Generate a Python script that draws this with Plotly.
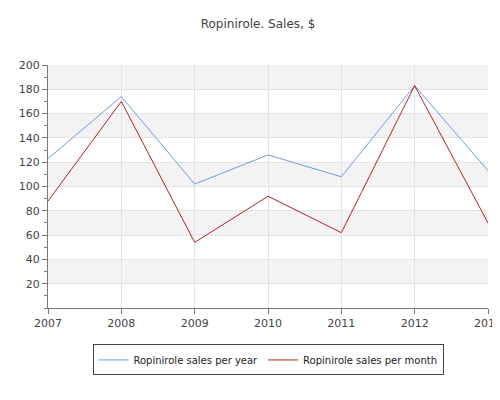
import plotly.graph_objects as go

years = [2007, 2008, 2009, 2010, 2011, 2012, 2013]
per_year = [123, 174, 102, 126, 108, 183, 113]
per_month = [88, 170, 54, 92, 62, 183, 70]
y_ticks = [20, 40, 60, 80, 100, 120, 140, 160, 180, 200]

fig = go.Figure()
fig.add_trace(go.Scatter(x=years, y=per_year, mode="lines", name="Ropinirole sales per year",
                         line=dict(color="#6f9be8", width=1)))
fig.add_trace(go.Scatter(x=years, y=per_month, mode="lines", name="Ropinirole sales per month",
                         line=dict(color="#b22222", width=1)))

shapes = []
for lo in [20, 60, 100, 140, 180]:
    shapes.append(dict(type="rect", xref="paper", yref="y", x0=0, x1=1, y0=lo, y1=lo + 20,
                       fillcolor="#f3f3f3", line=dict(width=0), layer="below"))

fig.update_layout(
    width=500, height=400,
    margin=dict(l=40, r=20, t=57, b=100, autoexpand=False),
    paper_bgcolor="white", plot_bgcolor="white",
    font=dict(family="DejaVu Sans", size=11, color="#444"),
    title=dict(text="Ropinirole. Sales, $", x=0.5, y=0.97, xanchor="center",
               font=dict(size=12, color="#444")),
    shapes=shapes,
    showlegend=True,
    legend=dict(orientation="h", x=0.5, xanchor="center", y=-0.15, yanchor="top",
                bordercolor="#444", borderwidth=1, itemwidth=30,
                font=dict(size=10, color="#222")),
    xaxis=dict(range=[2007, 2013], tickvals=years, showgrid=True, gridcolor="#e3e3e3",
               showline=True, linecolor="#777", ticks="outside", ticklen=5, tickcolor="#777",
               zeroline=False, fixedrange=True, automargin=False),
    yaxis=dict(range=[0, 200], tickvals=y_ticks, showgrid=True, gridcolor="#e3e3e3",
               showline=True, linecolor="#777", ticks="outside", ticklen=5, tickcolor="#777",
               minor=dict(dtick=10, ticks="outside", ticklen=3, tickcolor="#777", showgrid=False),
               zeroline=False, fixedrange=True, automargin=False),
)
fig.write_html("out.html")
